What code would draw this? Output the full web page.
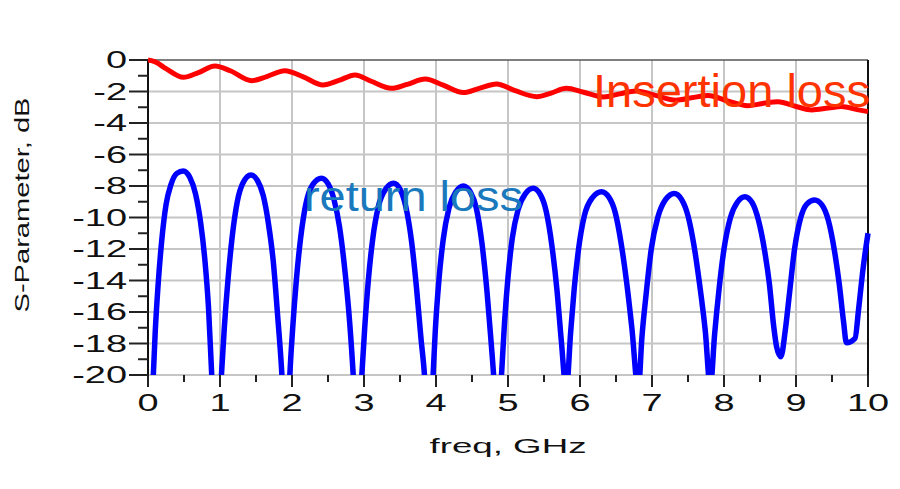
<!DOCTYPE html>
<html>
<head>
<meta charset="utf-8">
<script src="https://cdn.jsdelivr.net/npm/d3@7"></script>
<style>
  body { margin: 0; background: #fff; }
  svg { display: block; }
  text { font-family: "Liberation Sans", Arial, sans-serif; }
</style>
</head>
<body>
<div id="chart"></div>
<script>
// values: [freq GHz, dB]
const insertionLoss = [
  [0, 0], [0.1, -0.12], [0.25, -0.55], [0.49, -1.1], [0.7, -0.8], [0.93, -0.38],
  [1.15, -0.7], [1.44, -1.31], [1.65, -1.05], [1.9, -0.68], [2.15, -1.05],
  [2.43, -1.59], [2.65, -1.3], [2.875, -0.95], [3.1, -1.35], [3.38, -1.8],
  [3.6, -1.55], [3.85, -1.21], [4.1, -1.6], [4.38, -2.07], [4.6, -1.8],
  [4.84, -1.52], [5.1, -1.95], [5.4, -2.33], [5.6, -2.1], [5.81, -1.8],
  [6.05, -2.05], [6.33, -2.35], [6.55, -2.15], [6.78, -1.97], [7.05, -2.25],
  [7.33, -2.55], [7.55, -2.4], [7.78, -2.25], [8.05, -2.6], [8.33, -2.9],
  [8.55, -2.75], [8.75, -2.65], [9.0, -2.95], [9.22, -3.17], [9.45, -3.05],
  [9.63, -2.96], [9.85, -3.15], [10, -3.28]
]

const returnLoss = [
  [0, -30], [0.074, -20], [0.1, -17.3], [0.14, -14.3], [0.19, -11.5], [0.25, -9.2],
  [0.32, -7.9], [0.4, -7.2], [0.49, -7.05], [0.58, -7.45], [0.66, -8.5], [0.73, -10.3],
  [0.79, -12.7], [0.84, -15.7], [0.885, -20], [0.95, -26],
  [1.02, -20], [1.06, -17], [1.11, -14], [1.17, -11.2], [1.24, -9.0], [1.32, -7.8],
  [1.43, -7.3], [1.52, -7.65], [1.6, -8.6], [1.67, -10.3], [1.74, -12.8], [1.8, -16.2],
  [1.86, -20], [1.92, -26],
  [1.97, -20], [2.01, -17], [2.06, -14], [2.12, -11.3], [2.19, -9.2], [2.29, -7.9],
  [2.41, -7.5], [2.5, -7.85], [2.58, -8.8], [2.66, -10.6], [2.74, -13.6], [2.8, -16.6],
  [2.85, -20], [2.91, -26],
  [2.97, -20], [3.01, -17], [3.06, -14], [3.12, -11.4], [3.2, -9.3], [3.3, -8.2],
  [3.41, -7.83], [3.5, -8.2], [3.58, -9.3], [3.66, -11.5], [3.73, -14.5], [3.79, -17.6],
  [3.84, -20], [3.9, -25],
  [3.96, -20], [3.99, -17.2], [4.04, -14], [4.1, -11.4], [4.18, -9.4], [4.28, -8.35],
  [4.38, -8.0], [4.48, -8.4], [4.56, -9.4], [4.64, -11.7], [4.71, -14.8], [4.76, -17.6],
  [4.8, -20], [4.85, -24],
  [4.91, -20], [4.95, -16.8], [5.0, -13.8], [5.06, -11.3], [5.14, -9.5], [5.24, -8.5],
  [5.35, -8.15], [5.45, -8.55], [5.53, -9.6], [5.61, -11.8], [5.68, -14.6], [5.74, -17.8],
  [5.81, -21],
  [5.87, -17.3], [5.92, -14.5], [5.98, -12.0], [6.06, -9.9], [6.17, -8.75], [6.3, -8.36],
  [6.4, -8.7], [6.49, -9.7], [6.57, -11.6], [6.65, -14.2], [6.72, -17.0], [6.81, -21],
  [6.86, -17.6], [6.92, -14.8], [6.99, -12.0], [7.08, -10.0], [7.19, -8.85], [7.31, -8.47],
  [7.41, -8.85], [7.5, -9.9], [7.58, -11.7], [7.66, -14.2], [7.74, -17.2], [7.81, -20.8],
  [7.87, -17.4], [7.93, -14.6], [8.0, -12.0], [8.09, -10.0], [8.19, -9.0], [8.29, -8.68],
  [8.39, -9.05], [8.48, -10.2], [8.56, -12.0], [8.63, -14.2], [8.69, -16.9], [8.73, -18.2],
  [8.79, -18.84],
  [8.85, -17.2], [8.91, -14.8], [8.98, -12.0], [9.06, -10.1], [9.15, -9.15], [9.26, -8.89],
  [9.36, -9.2], [9.45, -10.2], [9.53, -12.0], [9.6, -14.2], [9.66, -16.6], [9.7, -17.95],
  [9.82, -17.67], [9.87, -15.8], [9.93, -13.3], [10, -11.0]
]

const xTickValues = [0, 1, 2, 3, 4, 5, 6, 7, 8, 9, 10]
const yTickValues = [0, -2, -4, -6, -8, -10, -12, -14, -16, -18, -20]

const width = 900
const height = 489
const margin = { top: 60, left: 148, right: 32, bottom: 114 }

const svg = d3
  .select('#chart')
  .append('svg')
  .attr('width', width)
  .attr('height', height)

const xScale = d3
  .scaleLinear()
  .domain([0, 10])
  .range([margin.left, width - margin.right])

const yScale = d3
  .scaleLinear()
  .domain([-20, 0])
  .range([height - margin.bottom, margin.top])

const x0 = xScale(0)
const x1 = xScale(10)
const yTop = yScale(0)
const yBot = yScale(-20)

// grid
svg
  .selectAll('.vgrid')
  .data(xTickValues.slice(1, -1))
  .enter()
  .append('line')
  .attr('x1', d => xScale(d))
  .attr('x2', d => xScale(d))
  .attr('y1', yTop)
  .attr('y2', yBot)
  .attr('stroke', '#c6c6c6')
  .attr('stroke-width', 2)

svg
  .selectAll('.hgrid')
  .data(yTickValues.slice(1))
  .enter()
  .append('line')
  .attr('x1', x0)
  .attr('x2', x1)
  .attr('y1', d => yScale(d))
  .attr('y2', d => yScale(d))
  .attr('stroke', '#c6c6c6')
  .attr('stroke-width', 2)

// frame
svg.append('line')
  .attr('x1', x0).attr('x2', x1).attr('y1', yTop).attr('y2', yTop)
  .attr('stroke', '#555').attr('stroke-width', 1.5)
svg.append('line')
  .attr('x1', x1).attr('x2', x1).attr('y1', yTop).attr('y2', yBot + 12)
  .attr('stroke', '#111').attr('stroke-width', 2)
svg.append('line')
  .attr('x1', x0).attr('x2', x0).attr('y1', yTop).attr('y2', yBot + 12)
  .attr('stroke', '#111').attr('stroke-width', 2)

// y ticks, major and minor
svg
  .selectAll('.ytick')
  .data(d3.range(-20, 0.5, 1))
  .enter()
  .append('line')
  .attr('x1', d => (d % 2 === 0 ? x0 - 19 : x0 - 10))
  .attr('x2', x0)
  .attr('y1', d => yScale(d))
  .attr('y2', d => yScale(d))
  .attr('stroke', '#222')
  .attr('stroke-width', 2)

// x ticks, major and minor
svg
  .selectAll('.xtick')
  .data(d3.range(0, 10.25, 0.5))
  .enter()
  .append('line')
  .attr('x1', d => xScale(d))
  .attr('x2', d => xScale(d))
  .attr('y1', yBot)
  .attr('y2', d => (d % 1 === 0 ? yBot + 12 : yBot + 7))
  .attr('stroke', '#222')
  .attr('stroke-width', 2)

// tick labels (wide font, like the original)
svg
  .selectAll('.xlabel')
  .data(xTickValues)
  .enter()
  .append('text')
  .attr('transform', d => 'translate(' + xScale(d) + ',411) scale(1.65,1)')
  .attr('text-anchor', 'middle')
  .attr('font-size', 23)
  .attr('fill', '#111')
  .text(d => d)

svg
  .selectAll('.ylabel')
  .data(yTickValues)
  .enter()
  .append('text')
  .attr('transform', d => 'translate(127,' + (yScale(d) + 8) + ') scale(1.65,1)')
  .attr('text-anchor', 'end')
  .attr('font-size', 23)
  .attr('fill', '#111')
  .text(d => (d < 0 ? '-' + Math.abs(d) : d))

// axis titles
svg
  .append('text')
  .attr('x', 508)
  .attr('y', 453)
  .attr('text-anchor', 'middle')
  .attr('font-size', 20)
  .attr('textLength', 157)
  .attr('lengthAdjust', 'spacingAndGlyphs')
  .attr('fill', '#111')
  .text('freq, GHz')

svg
  .append('text')
  .attr('transform', 'translate(29,205) rotate(-90)')
  .attr('text-anchor', 'middle')
  .attr('font-size', 21)
  .attr('textLength', 215)
  .attr('lengthAdjust', 'spacingAndGlyphs')
  .attr('fill', '#111')
  .text('S-Parameter, dB')

// curves
svg
  .append('clipPath')
  .attr('id', 'plot-clip')
  .append('rect')
  .attr('x', x0)
  .attr('y', yTop - 6)
  .attr('width', x1 - x0 + 3)
  .attr('height', yBot - yTop + 6)

const line = d3
  .line()
  .x(d => xScale(d[0]))
  .y(d => yScale(d[1]))
  .curve(d3.curveMonotoneX)

svg
  .append('path')
  .datum(returnLoss)
  .attr('d', line)
  .attr('fill', 'none')
  .attr('stroke', '#0000ff')
  .attr('stroke-width', 5.5)
  .attr('clip-path', 'url(#plot-clip)')

svg
  .append('path')
  .datum(insertionLoss)
  .attr('d', line)
  .attr('fill', 'none')
  .attr('stroke', '#ff0000')
  .attr('stroke-width', 5)
  .attr('clip-path', 'url(#plot-clip)')

// labels on the curves
svg
  .append('text')
  .attr('x', 593)
  .attr('y', 107)
  .attr('font-size', 46)
  .attr('textLength', 277)
  .attr('lengthAdjust', 'spacingAndGlyphs')
  .attr('fill', '#ff3300')
  .text('Insertion loss')

svg
  .append('text')
  .attr('x', 304)
  .attr('y', 211)
  .attr('font-size', 42)
  .attr('textLength', 219)
  .attr('lengthAdjust', 'spacingAndGlyphs')
  .attr('fill', '#1a78bd')
  .text('return loss')
</script>
</body>
</html>
